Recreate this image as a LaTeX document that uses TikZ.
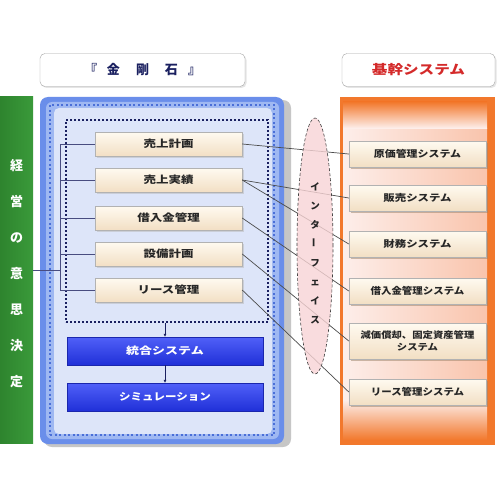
\documentclass[tikz,border=0pt]{standalone}
\usepackage{fontspec}
\usepackage{graphicx}
\setmainfont{Noto Sans CJK JP}
\usetikzlibrary{arrows.meta,shadows,shapes.geometric}
\definecolor{grn}{HTML}{3A9A3A}
\definecolor{grnd}{HTML}{2E842E}
\definecolor{bluee}{HTML}{6A8EEA}
\definecolor{bluem}{HTML}{9FB8F2}
\definecolor{bluel}{HTML}{DDE5F9}
\definecolor{orng}{HTML}{F2782C}
\definecolor{orngl}{HTML}{FDEEEA}
\definecolor{orngm}{HTML}{F9C4AC}
\definecolor{navy}{HTML}{1A2060}
\definecolor{dotb}{HTML}{4A6FD8}
\definecolor{creamt}{HTML}{FFFAF0}
\definecolor{creamb}{HTML}{F2DFC4}
\definecolor{bbt}{HTML}{5060F8}
\definecolor{bbb}{HTML}{2030D8}
\definecolor{pinkf}{HTML}{F8D4D6}
\definecolor{redt}{HTML}{D42A2A}
\newcommand\widetxt[2][1.25]{\scalebox{#1}[1]{#2}}
\tikzset{
  lbox/.style={draw=gray!60, top color=creamt, bottom color=creamb, minimum width=147pt, minimum height=24pt, inner sep=0pt,
    drop shadow={shadow xshift=1.5pt, shadow yshift=-2pt, fill=gray!55}, font=\fontsize{10}{11}\selectfont\bfseries, text=black!85},
  rbox/.style={draw=gray!60, top color=creamt, bottom color=creamb, minimum width=137pt, minimum height=26pt, inner sep=0pt,
    drop shadow={shadow xshift=1.5pt, shadow yshift=-2pt, fill=gray!60!brown}, font=\fontsize{9.5}{11}\selectfont\bfseries, text=black!85, align=center},
  bbox/.style={draw=bbb!80!black, top color=bbt, bottom color=bbb, minimum width=196pt, minimum height=28pt, inner sep=0pt,
    font=\fontsize{10}{11}\selectfont\bfseries, text=white},
  tbox/.style={draw=gray!70, fill=white, rounded corners=5pt, minimum height=33pt, inner sep=0pt,
    drop shadow={shadow xshift=1.5pt, shadow yshift=-1.5pt, fill=gray!40}},
  conn/.style={line width=0.7pt, black!70},
  trunkline/.style={line width=0.8pt, navy!80},
}
\begin{document}
\begin{tikzpicture}[x=1pt,y=-1pt]
\useasboundingbox (0,0) rectangle (500,500);
\fill[white] (0,0) rectangle (500,500);

% title boxes
\node (t1) [tbox, minimum width=205pt, text=navy, font=\fontsize{13}{14}\selectfont\bfseries] at (142.5,70) {『\hspace{10pt}金\hspace{16pt}剛\hspace{16pt}石\hspace{10pt}』};
\node (t2) [tbox, minimum width=153pt, text=redt, font=\fontsize{13}{14}\selectfont\bfseries] at (418.5,70) {\widetxt[1.2]{基幹システム}};

% green bar
\fill[left color=grnd, right color=grn] (0,97) rectangle (33,443);
\node (gbar) [text=white, font=\fontsize{13}{36}\selectfont\bfseries, align=center, inner sep=0pt] at (16.5,274) {経\\営\\の\\意\\思\\決\\定};

% blue panel
\fill[gray!45, rounded corners=8pt] (44,100) rectangle (291,447);
\fill[bluee, rounded corners=8pt] (40,97) rectangle (284,444);
\fill[bluem, rounded corners=6pt] (46,102) rectangle (279,439);
\fill[bluel, rounded corners=5pt] (54,108) rectangle (272,434);
\node (outerf) [draw=dotb, line width=2pt, dash pattern=on 2pt off 2.5pt, minimum width=224pt, minimum height=330pt, inner sep=0pt] at (162,270) {};
\node (innerf) [draw=navy, line width=1.6pt, dash pattern=on 2pt off 2pt, minimum width=202pt, minimum height=202pt, inner sep=0pt] at (167,221) {};

% orange panel
\fill[orng] (340,97) rectangle (495,445);
\fill[left color=orngl, right color=orngm] (343,128) rectangle (487,400);
\fill[top color=orng, bottom color=orngl] (343,102) rectangle (487,128);
\fill[top color=orngl, bottom color=orng] (343,400) rectangle (487,440);

% left boxes
\node (l1) [lbox] at (168.5,144) {\widetxt{売上計画}};
\node (l2) [lbox] at (168.5,180) {\widetxt{売上実績}};
\node (l3) [lbox] at (168.5,218) {\widetxt{借入金管理}};
\node (l4) [lbox] at (168.5,254) {\widetxt{設備計画}};
\node (l5) [lbox] at (168.5,290) {\widetxt{リース管理}};

% blue boxes
\node (b1) [bbox] at (165,351) {\widetxt[1.3]{統合システム}};
\node (b2) [bbox] at (165,397) {\widetxt[1.15]{シミュレーション}};

% right boxes
\node (r1) [rbox] at (417.5,154) {\widetxt[1.15]{原価管理システム}};
\node (r2) [rbox] at (417.5,198) {\widetxt[1.2]{販売システム}};
\node (r3) [rbox] at (417.5,244) {\widetxt[1.2]{財務システム}};
\node (r4) [rbox] at (417.5,291) {\widetxt[1.1]{借入金管理システム}};
\node (r5) [rbox, minimum height=36pt, font=\fontsize{9}{12}\selectfont\bfseries] at (417.5,341) {\widetxt[1.15]{減価償却、固定資産管理}\\\widetxt[1.15]{システム}};
\node (r6) [rbox] at (417.5,392) {\widetxt[1.1]{リース管理システム}};

% trunk from green bar
\coordinate (trunk) at (60,0);
\coordinate (gb) at (33,270);
\draw[trunkline] (gb) -- (gb -| trunk);
\draw[trunkline] (trunk |- l1.west) -- (trunk |- l5.west);
\foreach \n in {l1,l2,l3,l4,l5} \draw[trunkline] (trunk |- \n.west) -- (\n.west);

% arrows down
\draw[navy, line width=0.7pt, -{Latex[length=3pt,width=3pt]}] (innerf.south -| b1.north) -- (b1.north);
\draw[navy, line width=0.7pt, -{Latex[length=3pt,width=3pt]}] (b1.south) -- (b2.north);

% connectors
\draw[conn] (l1.east) -- (r1.west);
\draw[conn] (l2.east) -- (r2.west);
\draw[conn] (l2.east) -- (r3.west);
\draw[conn] (l3.east) -- (r4.west);
\draw[conn] (l4.east) -- (r5.west);
\draw[conn] (l5.east) -- (r6.west);

% interface ellipse
\node (ifc) [ellipse, draw=gray!50!black, densely dashed, line width=0.6pt, fill=pinkf, fill opacity=0.8, minimum width=36pt, minimum height=256pt, inner sep=0pt] at (315,246) {};
\node (ifct) [font=\fontsize{9.5}{19}\selectfont\bfseries, align=center, text=black!85, inner sep=0pt] at (315,253) {イ\\ン\\タ\\\rotatebox{90}{ー}\\フ\\ェ\\イ\\ス};
\end{tikzpicture}
\end{document}
